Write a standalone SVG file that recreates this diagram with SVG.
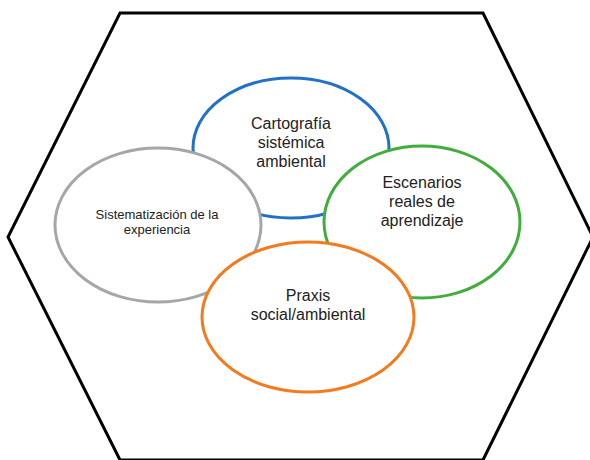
<svg xmlns="http://www.w3.org/2000/svg" width="590" height="460" viewBox="0 0 590 460">
<style>
.e{fill:#fff;stroke-width:3}
.t{font-family:"Liberation Sans",Arial,sans-serif;fill:#222;text-anchor:middle}
.big{font-size:16px}
.small{font-size:13px}
</style>
<rect width="590" height="460" fill="#fff"/>
<g id="hexagon"><polygon points="120,13 483,13 593,237 483,460 120,460 8,237" fill="none" stroke="#000" stroke-width="3" stroke-linejoin="miter"/></g>
<g id="connectors"></g>
<g id="cartografia"><ellipse class="e" cx="291" cy="148" rx="98" ry="70" stroke="#1f72c8"/>
<text class="t big" x="291" y="129">Cartografía</text><text class="t big" x="291" y="148">sistémica</text><text class="t big" x="291" y="167">ambiental</text></g>
<g id="sistematizacion"><ellipse class="e" cx="158" cy="225" rx="103" ry="77" stroke="#a6a6a6"/>
<text class="t small" x="157" y="219">Sistematización de la</text><text class="t small" x="157" y="234">experiencia</text></g>
<g id="escenarios"><ellipse class="e" cx="422" cy="222" rx="98" ry="76" stroke="#41ad3c"/>
<text class="t big" x="422" y="188">Escenarios</text><text class="t big" x="422" y="207">reales de</text><text class="t big" x="422" y="226">aprendizaje</text></g>
<g id="praxis"><ellipse class="e" cx="308" cy="317" rx="106" ry="75" stroke="#f47a20"/>
<text class="t big" x="308" y="301">Praxis</text><text class="t big" x="308" y="320">social/ambiental</text></g>
</svg>
